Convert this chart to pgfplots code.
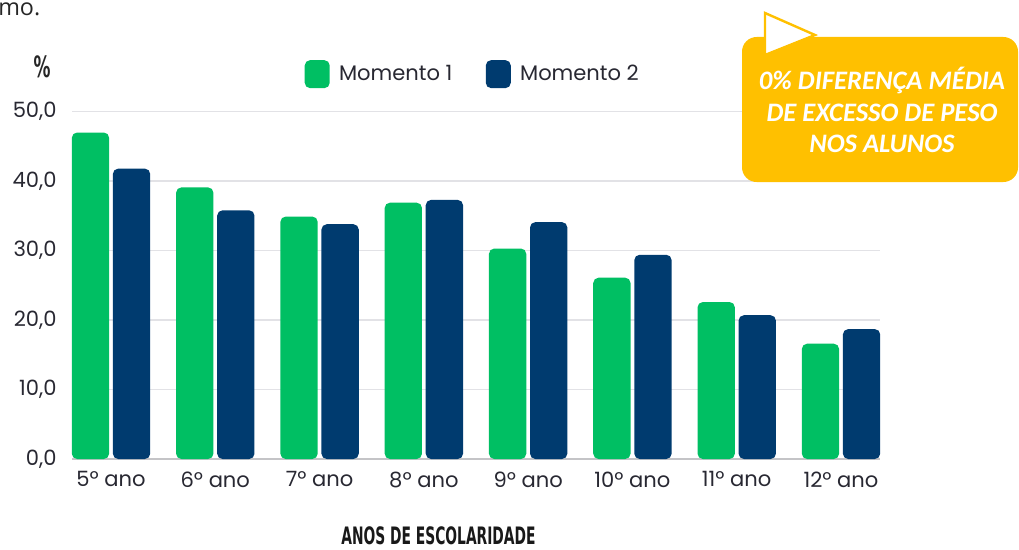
\documentclass[border=0pt]{standalone}
\usepackage{pgfplots}
\pgfplotsset{compat=1.18}
\usepackage{pgfplotstable}
\usepackage{fontspec}
\setmainfont{Poppins}
\newfontfamily\calloutfont{Carlito}
\newfontfamily\condfont[FakeStretch=0.64]{DejaVu Sans Condensed}
\newfontfamily\snipfont{Open Sans}
\definecolor{mgreen}{RGB}{0,191,99}
\definecolor{mnavy}{RGB}{0,59,111}
\definecolor{cyellow}{RGB}{255,192,0}
\definecolor{tickgray}{RGB}{40,40,50}
\definecolor{gridgray}{RGB}{226,226,230}
\pgfplotstableread{
x m1 m2
0 47.0 41.8
1 39.1 35.8
2 34.9 33.8
3 36.9 37.3
4 30.3 34.1
5 26.1 29.4
6 22.6 20.7
7 16.6 18.7
}\data
\begin{document}
\begin{tikzpicture}
\useasboundingbox (0,0) rectangle (764.25pt,-411.75pt);
\begin{axis}[
  at={(54pt,-344.25pt)}, anchor=south west,
  scale only axis, width=606pt, height=260.5pt,
  xmin=-0.374, xmax=7.374, ymin=0, ymax=50,
  ybar,
  axis x line*=bottom, axis y line*=left,
  x axis line style={draw=gridgray!70!gray, line width=1pt, -},
  y axis line style={draw=none},
  major tick length=0pt,
  ytick={0,10,20,30,40,50},
  ymajorgrids, grid style={draw=gridgray, line width=1.2pt},
  xtick={0,...,7},
  xticklabels={5º ano,6º ano,7º ano,8º ano,9º ano,10º ano,11º ano,12º ano},
  tick label style={font=\fontsize{15.8}{18}\selectfont, text=tickgray},
  xticklabel style={yshift=-6pt},
  yticklabel style={xshift=-8pt},
  /pgf/number format/.cd, fixed, fixed zerofill, precision=1, use comma, assume math mode=true,
  /pgfplots/.cd,
  legend style={at={(0.2877,1.108)}, anchor=west, draw=none, fill=none,
    font=\fontsize{15.8}{18}\selectfont, text=tickgray, inner sep=0pt,
    nodes={inner xsep=7pt}, /tikz/every even column/.append style={column sep=18pt}},
  legend columns=2,
  clip=false,
]
\addplot[fill=mgreen, draw=none, bar width=28pt, bar shift=-15.4pt, rounded corners=4pt,
  legend image code/.code={\fill[mgreen] (0pt,-10.5pt) rectangle (18.75pt,10.5pt);}]
  table[x=x, y=m1] {\data};
\addlegendentry{Momento 1}
\addplot[fill=mnavy, draw=none, bar width=28pt, bar shift=15.4pt, rounded corners=4pt,
  legend image code/.code={\fill[mnavy] (0pt,-10.5pt) rectangle (18.75pt,10.5pt);}]
  table[x=x, y=m2] {\data};
\addlegendentry{Momento 2}
\end{axis}
\begin{scope}[x=0.75pt, y=-0.75pt]
  \node[anchor=base west, inner sep=0pt, font=\snipfont\fontsize{17.5}{18}\selectfont, text=black!85] at (-2,16) {mo.};
  \node[anchor=base, inner sep=0pt, font=\condfont\bfseries\fontsize{22}{22}\selectfont, text=black!85] at (42,78) {\%};
  \node[anchor=base, inner sep=0pt, font=\condfont\bfseries\fontsize{18}{20}\selectfont, text=black!90] at (438.5,544) {ANOS DE ESCOLARIDADE};
  \fill[cyellow, rounded corners=11pt] (742,37) rectangle (1018,182);
  \filldraw[fill=white, draw=cyellow, line width=1.8pt, line join=miter] (765,13) -- (815,35) -- (765,55) -- cycle;
  \node[align=center, text=white, inner sep=0pt, font=\calloutfont\bfseries\itshape\fontsize{20}{23.8}\selectfont] at (882,110) {0\% DIFERENÇA MÉDIA\\DE EXCESSO DE PESO\\NOS ALUNOS};
\end{scope}
\end{tikzpicture}
\end{document}
